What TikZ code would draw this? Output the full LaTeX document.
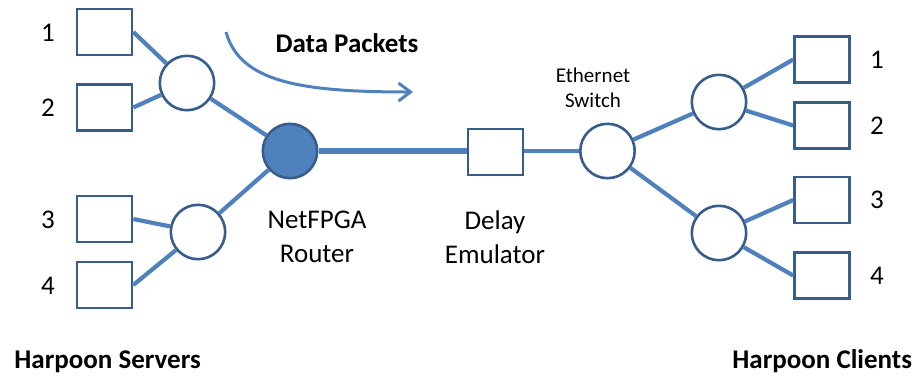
\documentclass[tikz,border=0pt]{standalone}
\usepackage{fontspec}
\setmainfont{Carlito}
\usetikzlibrary{arrows.meta}
\definecolor{linkblue}{RGB}{79,129,189}
\definecolor{edgeblue}{RGB}{56,93,138}

\begin{document}
\begin{tikzpicture}[x=0.5pt, y=-0.5pt,
  host/.style={draw=edgeblue, line width=1.3pt, fill=white, minimum width=27.5pt, minimum height=23pt, inner sep=0pt},
  hub/.style={circle, draw=edgeblue, line width=1.3pt, fill=white, minimum size=27.2pt, inner sep=0pt},
  link/.style={draw=linkblue, line width=2.1pt},
  lbl/.style={font=\fontsize{13.5}{17}\selectfont, align=center, inner sep=0pt},
  smalllbl/.style={font=\fontsize{10.5}{12.5}\selectfont, align=center, inner sep=0pt},
  heading/.style={font=\fontsize{13.5}{17}\selectfont\bfseries, inner sep=0pt}]
\useasboundingbox (0,0) rectangle (918,377);

\node[host] (srv1) at (104.5,32) {};
\node[host] (srv2) at (104.5,107.5) {};
\node[host] (srv3) at (104.5,219) {};
\node[host] (srv4) at (104.5,285) {};
\node[hub] (hubA) at (187,83) {};
\node[hub] (hubB) at (198,232) {};
\node[hub, fill=linkblue] (router) at (290,151) {};
\node[host] (delay) at (495.5,152) {};
\node[hub] (ethsw) at (607.5,151) {};
\node[hub] (hubC) at (719,102) {};
\node[hub] (hubD) at (719,233) {};
\node[host] (cli1) at (822,59.5) {};
\node[host] (cli2) at (822,125.5) {};
\node[host] (cli3) at (822,200) {};
\node[host] (cli4) at (822,275.5) {};

\draw[link] (srv1.east) -- (hubA);
\draw[link] (srv2.east) -- (hubA);
\draw[link] (srv3.east) -- (hubB);
\draw[link] (srv4.east) -- (hubB);
\draw[link] (hubA) -- (router);
\draw[link] (hubB) -- (router);
\draw[link, line width=2.6pt] (router) -- (router -| delay.west);
\draw[link] (delay.east |- ethsw) -- (ethsw);
\draw[link] (ethsw) -- (hubC);
\draw[link] (ethsw) -- (hubD);
\draw[link] (hubC) -- (cli1.west);
\draw[link] (hubC) -- (cli2.west);
\draw[link] (hubD) -- (cli3.west);
\draw[link] (hubD) -- (cli4.west);

\node[lbl] (s1) at (48,33) {1};
\node[lbl] (s2) at (48,108) {2};
\node[lbl] (s3) at (48,220) {3};
\node[lbl] (s4) at (48,286) {4};
\node[lbl] (c1) at (877,60) {1};
\node[lbl] (c2) at (877,126) {2};
\node[lbl] (c3) at (877,200) {3};
\node[lbl] (c4) at (877,276) {4};

\node[lbl] (routerlbl) at (317,237) {NetFPGA\\Router};
\node[lbl] (delaylbl) at (495,237) {Delay\\Emulator};
\node[smalllbl] (ethlbl) at (593,88) {Ethernet\\Switch};
\node[heading] (flowlbl) at (347,43) {Data Packets};
\node[heading, anchor=base west] (srvlbl) at (14,368) {Harpoon Servers};
\node[heading, anchor=base west] (clilbl) at (732,368) {Harpoon Clients};

\coordinate (flowstart) at (226,32);
\coordinate (flowend) at (413,92);
\draw[linkblue, line width=1.5pt, -{Straight Barb[length=6pt, width=9pt]}]
  (flowstart) .. controls (240,82) and (300,92) .. (flowend);
\end{tikzpicture}
\end{document}
